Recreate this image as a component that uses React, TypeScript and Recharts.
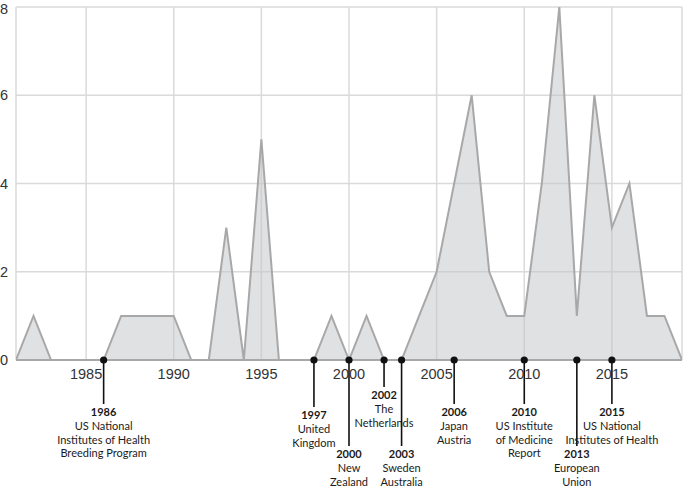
import React from 'react';
import { AreaChart, Area, XAxis, YAxis, CartesianGrid, ReferenceDot } from 'recharts';

const years = [1981, 1982, 1983, 1984, 1985, 1986, 1987, 1988, 1989, 1990, 1991, 1992, 1993, 1994, 1995, 1996, 1997, 1998, 1999, 2000, 2001, 2002, 2003, 2004, 2005, 2006, 2007, 2008, 2009, 2010, 2011, 2012, 2013, 2014, 2015, 2016, 2017, 2018, 2019];
const counts = [0, 1, 0, 0, 0, 0, 1, 1, 1, 1, 0, 0, 3, 0, 5, 0, 0, 0, 1, 0, 1, 0, 0, 1, 2, 4, 6, 2, 1, 1, 4, 8, 1, 6, 3, 4, 1, 1, 0];
const xTicks = [1985, 1990, 1995, 2000, 2005, 2010, 2015];
const yTicks = [0, 2, 4, 6, 8];

// label years and the x position (in years) where each marker sits in the picture
const eventYears = [1986, 1997, 2000, 2002, 2003, 2006, 2010, 2013, 2015];
const eventX = [1986, 1998, 2000, 2002, 2003, 2006, 2010, 2013, 2015];
const eventLabels: string[][] = [
  ['US National', 'Institutes of Health', 'Breeding Program'],
  ['United', 'Kingdom'],
  ['New', 'Zealand'],
  ['The', 'Netherlands'],
  ['Sweden', 'Australia'],
  ['Japan', 'Austria'],
  ['US Institute', 'of Medicine', 'Report'],
  ['European', 'Union'],
  ['US National', 'Institutes of Health'],
];

// pixel offset (style) of first text line below the axis for each event
const eventOffsets = [52, 55, 94, 35, 94, 52, 52, 94, 52];

const data = years.map((y, i) => ({ year: y, count: counts[i] }));

const textFont = 'Lato, "Liberation Sans", Arial, sans-serif';

function EventMarker(props: any) {
  const { cx, cy, year, lines, offset } = props;
  if (cx == null || cy == null) return null;
  const first = cy + offset;
  const lineEnd = first - 8;
  return (
    <g>
      <text x={cx} y={first + 4} textAnchor="middle" fontFamily={textFont} fontSize={11} fontWeight={700} fill="#1a1a1a">
        {year}
      </text>
      {lines.map((l: string, i: number) => (
        <text key={i} x={cx} y={first + 4 + (i + 1) * 13.8} textAnchor="middle" fontFamily={textFont} fontSize={11} fill="#1a1a1a">
          {l}
        </text>
      ))}
      <line x1={cx} y1={cy} x2={cx} y2={lineEnd} stroke="#111" strokeWidth={1.6} />
      <circle cx={cx} cy={cy} r={3.6} fill="#111" />
    </g>
  );
}

export default function App() {
  return (
    <div style={{ position: 'absolute', left: 0, top: 0, background: '#fff' }}>
      <AreaChart width={685} height={488} data={data} margin={{ top: 7, right: 3, left: 0, bottom: 98 }}>
        <CartesianGrid stroke="#dadada" strokeWidth={1.5} />
        <XAxis
          dataKey="year"
          type="number"
          domain={[1981, 2019]}
          ticks={xTicks}
          tickLine={false}
          axisLine={{ stroke: '#a8a8a8', strokeWidth: 2 }}
          tickMargin={3}
          height={30}
          tick={{ fill: '#333', fontSize: 14.5, fontFamily: '"Liberation Sans", Arial, sans-serif' }}
          allowDataOverflow
        />
        <YAxis
          width={16}
          domain={[0, 8]}
          ticks={yTicks}
          tickLine={false}
          axisLine={false}
          tickMargin={2}
          tick={{ fill: '#333', fontSize: 14.5, fontFamily: '"Liberation Sans", Arial, sans-serif' }}
        />
        <Area
          type="linear"
          dataKey="count"
          stroke="#a8a8a8"
          strokeWidth={2}
          fill="#c2c4c8"
          fillOpacity={0.5}
          isAnimationActive={false}
          dot={false}
          activeDot={false}
        />
        {eventYears.map((y, i) => (
          <ReferenceDot
            key={y}
            x={eventX[i]}
            y={0}
            r={3.6}
            ifOverflow="visible"
            shape={(p: any) => <EventMarker {...p} year={y} lines={eventLabels[i]} offset={eventOffsets[i]} />}
          />
        ))}
      </AreaChart>
    </div>
  );
}
